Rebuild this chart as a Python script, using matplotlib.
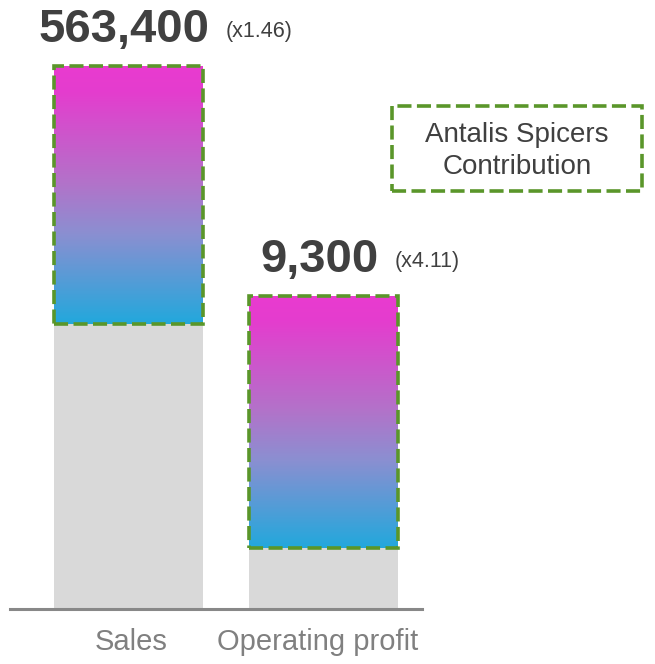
import numpy as np
import matplotlib
matplotlib.use("Agg")
import matplotlib.pyplot as plt
from matplotlib.colors import LinearSegmentedColormap
from matplotlib.patches import Rectangle

plt.rcParams['font.family'] = ['Liberation Sans', 'DejaVu Sans']

# ---- data ----
categories = ["Sales", "Operating profit"]
base_values = [285, 61]          # grey (existing business), arbitrary units
contrib_values = [258, 252]      # Antalis Spicers contribution, arbitrary units
total_labels = ["563,400", "9,300"]
multiplier_labels = ["(x1.46)", "(x4.11)"]
legend_text = "Antalis Spicers\nContribution"

W, H = 655, 664
fig = plt.figure(figsize=(W / 100, H / 100), dpi=100)
ax = fig.add_axes([10 / W, (H - 609) / H, 412 / W, 609 / H])
ax.set_xlim(-0.608, 1.505)
ax.set_ylim(0, 609)
ax.axis('off')

grey = "#D9D9D9"
green = "#5A962A"
dark = "#404040"
bar_w = 0.764
dash = (0, (3.9, 1.5))

cmap = LinearSegmentedColormap.from_list(
    "grad",
    [(0.0, "#22A8DC"), (0.35, "#8B8FD1"), (0.55, "#B372C9"),
     (0.9, "#E43DCE"), (1.0, "#E93BD0")])
grad = np.linspace(0, 1, 256).reshape(-1, 1)

x = np.arange(len(categories))
ax.bar(x, base_values, width=bar_w, color=grey, zorder=1)

big_texts = []
for i, (b, c) in enumerate(zip(base_values, contrib_values)):
    x0 = x[i] - bar_w / 2
    x1 = x[i] + bar_w / 2
    ax.imshow(grad, extent=[x0, x1, b, b + c], origin='lower', cmap=cmap,
              aspect='auto', zorder=2, interpolation='bilinear')
    ax.add_patch(Rectangle((x0, b), bar_w, c, fill=False, edgecolor=green,
                           linewidth=2.6, linestyle=dash, zorder=3,
                           clip_on=False))
    top = b + c
    t = ax.annotate(total_labels[i], xy=(x[i], top), xytext=(-3, 17),
                    textcoords='offset points', ha='center', va='baseline',
                    fontsize=34, fontweight='bold', color=dark)
    big_texts.append(t)

ax.set_xlim(-0.608, 1.505)
ax.set_ylim(0, 609)

fig.canvas.draw()
r = fig.canvas.get_renderer()
for i, t in enumerate(big_texts):
    wpx = t.get_window_extent(r).width
    wpt = wpx * 72 / fig.dpi
    top = base_values[i] + contrib_values[i]
    ax.annotate(multiplier_labels[i], xy=(x[i], top),
                xytext=(-3 + wpt / 2 + 11.5, 17 + 4.2),
                textcoords='offset points', ha='left', va='baseline',
                fontsize=15.5, color=dark)

# baseline
ax.plot([0, 1], [0, 0], transform=ax.transAxes, color="#888888",
        linewidth=2.2, clip_on=False, zorder=4)

# category labels
label_dx = [1.5, -4.5]
for i, cat in enumerate(categories):
    ax.annotate(cat, xy=(x[i], 0), xytext=(label_dx[i], -13.5),
                textcoords='offset points',
                ha='center', va='top', fontsize=21, color="#808080")

# legend box
fig.text(517 / W, 1 - 151 / H, legend_text, ha='center', va='center',
         fontsize=20, color=dark, linespacing=1.32)
fig.patches.append(Rectangle((392 / W, 1 - 191 / H), 250 / W, 85 / H,
                             transform=fig.transFigure, fill=False,
                             edgecolor=green, linewidth=2.6,
                             linestyle=dash))

fig.savefig("out.png", dpi=100)
